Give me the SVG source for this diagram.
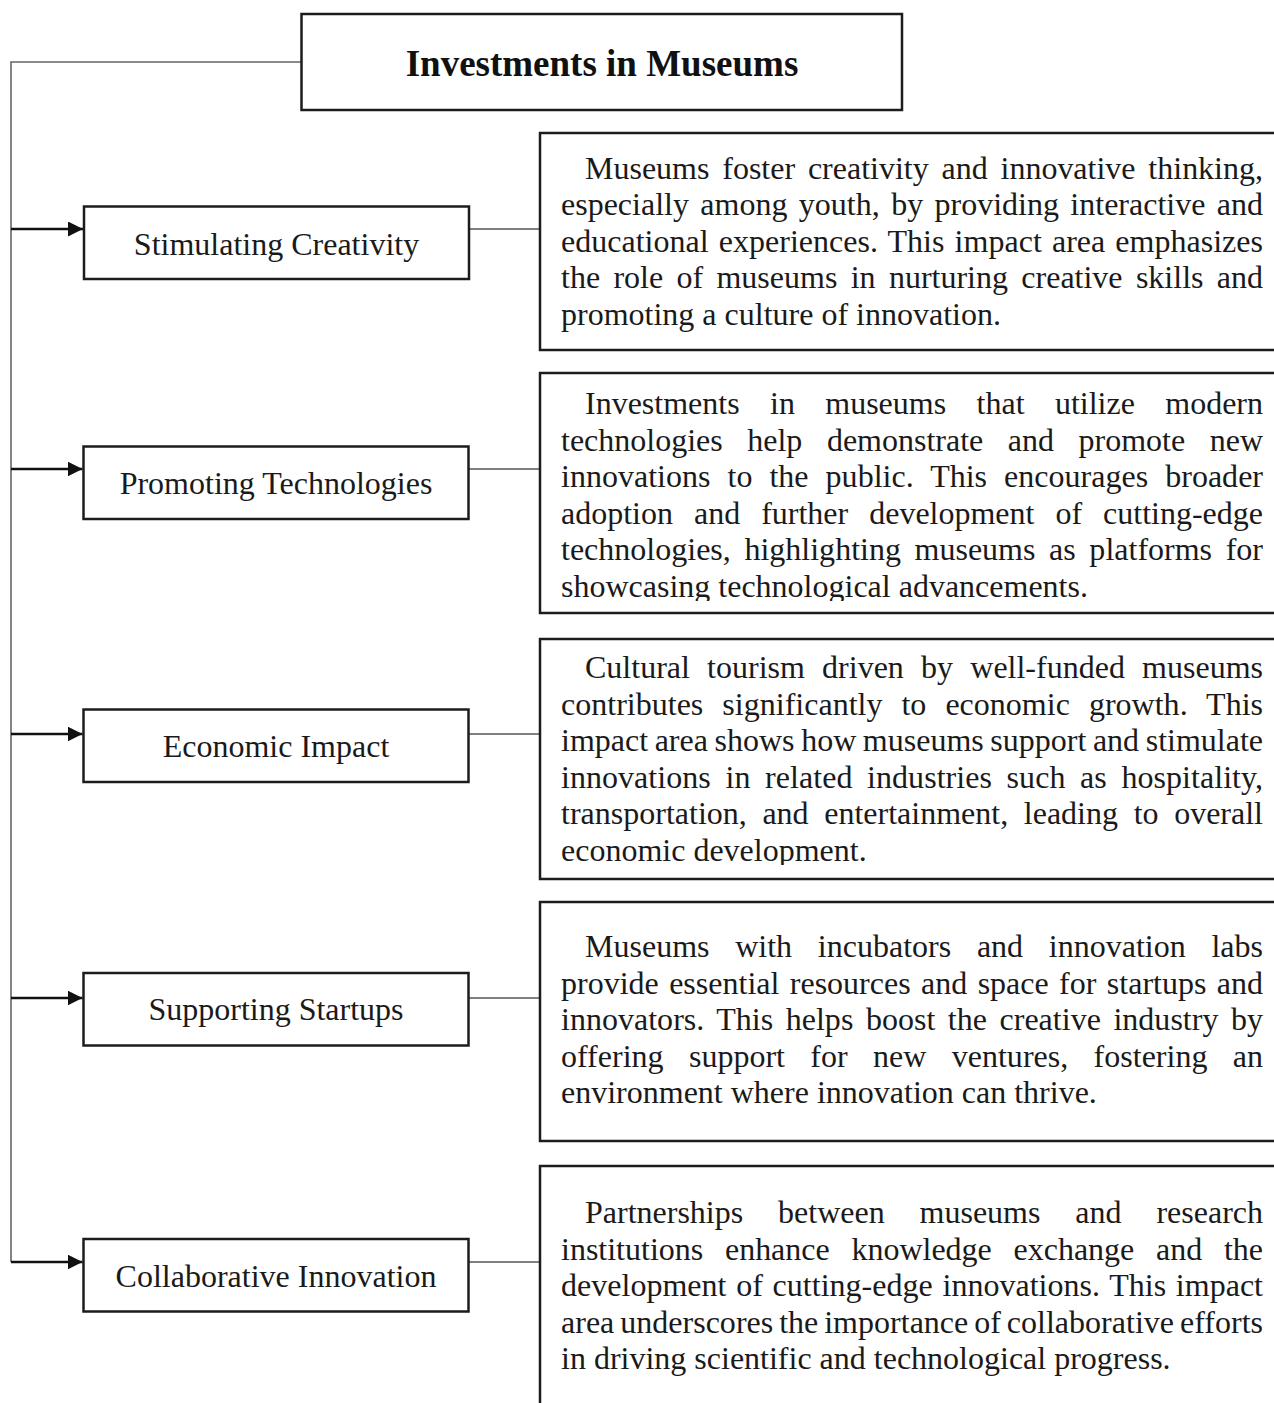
<svg xmlns="http://www.w3.org/2000/svg" width="1274" height="1403" viewBox="0 0 1274 1403">
<defs>
<style>
.box{fill:#fff;stroke:#1c1c1c;stroke-width:2.5}
.title{font-family:"Liberation Serif","Times New Roman",serif;font-weight:bold;font-size:37px;fill:#111;text-anchor:middle}
.lbl{font-family:"Liberation Serif","Times New Roman",serif;font-size:32px;fill:#1a1a1a;text-anchor:middle}
.body{font-family:"Liberation Serif","Times New Roman",serif;font-size:32px;fill:#1a1a1a}
.trunk{fill:none;stroke:#666;stroke-width:1.6}
.arr{fill:none;stroke:#111;stroke-width:2.5}
.link{fill:none;stroke:#555;stroke-width:1.6}
</style>
<marker id="ah" viewBox="0 0 15 15" refX="15" refY="7.5" markerWidth="15" markerHeight="15" markerUnits="userSpaceOnUse" orient="auto">
<path d="M0,0 L15,7.5 L0,15 Z" fill="#111"/>
</marker>
<clipPath id="c2"><rect x="540" y="373" width="740" height="228"/></clipPath>
<clipPath id="c3"><rect x="540" y="639" width="740" height="226"/></clipPath>
</defs>

<g id="connectors">
<path class="trunk" d="M301,62 H11 V1262"/>
<path class="arr" d="M11,229 H83" marker-end="url(#ah)"/>
<path class="arr" d="M11,469 H82.5" marker-end="url(#ah)"/>
<path class="arr" d="M11,734 H82.5" marker-end="url(#ah)"/>
<path class="arr" d="M11,998 H82.5" marker-end="url(#ah)"/>
<path class="arr" d="M11,1262 H82.5" marker-end="url(#ah)"/>
<path class="link" d="M469,229 H540"/>
<path class="link" d="M468,469 H540"/>
<path class="link" d="M468,734 H540"/>
<path class="link" d="M468,998 H540"/>
<path class="link" d="M468,1262 H540"/>
</g>

<g id="title">
<rect class="box" x="301.5" y="14" width="600.5" height="96"/>
<text class="title" x="602" y="76">Investments in Museums</text>
</g>

<g id="n1">
<rect class="box" x="84" y="206.5" width="385" height="72.5"/>
<text class="lbl" x="276.5" y="254.5">Stimulating Creativity</text>
</g>
<g id="n2">
<rect class="box" x="83.5" y="446.5" width="385" height="72.5"/>
<text class="lbl" x="276" y="494">Promoting Technologies</text>
</g>
<g id="n3">
<rect class="box" x="83.5" y="709.5" width="385" height="72.5"/>
<text class="lbl" x="276" y="757">Economic Impact</text>
</g>
<g id="n4">
<rect class="box" x="83.5" y="973" width="385" height="72.5"/>
<text class="lbl" x="276" y="1020">Supporting Startups</text>
</g>
<g id="n5">
<rect class="box" x="83.5" y="1239" width="385" height="72.5"/>
<text class="lbl" x="276" y="1287">Collaborative Innovation</text>
</g>

<g id="d1">
<rect class="box" x="540" y="133" width="760" height="217"/>
<text class="body" x="585" y="178.5" textLength="678" lengthAdjust="spacing" word-spacing="4.8">Museums foster creativity and innovative thinking,</text>
<text class="body" x="561" y="215.1" textLength="702" lengthAdjust="spacing" word-spacing="3.4">especially among youth, by providing interactive and</text>
<text class="body" x="561" y="251.7" textLength="702" lengthAdjust="spacing" word-spacing="2.1">educational experiences. This impact area emphasizes</text>
<text class="body" x="561" y="288.3" textLength="702" lengthAdjust="spacing" word-spacing="5.3">the role of museums in nurturing creative skills and</text>
<text class="body" x="561" y="324.9">promoting a culture of innovation.</text>
</g>

<g id="d2">
<rect class="box" x="540" y="373" width="760" height="240"/>
<g clip-path="url(#c2)">
<text class="body" x="585" y="414" textLength="678" lengthAdjust="spacing" word-spacing="22.4">Investments in museums that utilize modern</text>
<text class="body" x="561" y="450.6" textLength="702" lengthAdjust="spacing" word-spacing="16.5">technologies help demonstrate and promote new</text>
<text class="body" x="561" y="487.2" textLength="702" lengthAdjust="spacing" word-spacing="9">innovations to the public. This encourages broader</text>
<text class="body" x="561" y="523.8" textLength="702" lengthAdjust="spacing" word-spacing="13">adoption and further development of cutting-edge</text>
<text class="body" x="561" y="560.4" textLength="702" lengthAdjust="spacing" word-spacing="5.6">technologies, highlighting museums as platforms for</text>
<text class="body" x="561" y="597">showcasing technological advancements.</text>
</g>
</g>

<g id="d3">
<rect class="box" x="540" y="639" width="760" height="240"/>
<g clip-path="url(#c3)">
<text class="body" x="585" y="678" textLength="678" lengthAdjust="spacing" word-spacing="9.2">Cultural tourism driven by well-funded museums</text>
<text class="body" x="561" y="714.6" textLength="702" lengthAdjust="spacing" word-spacing="11">contributes significantly to economic growth. This</text>
<text class="body" x="561" y="751.2" textLength="702" lengthAdjust="spacing" word-spacing="-1.4">impact area shows how museums support and stimulate</text>
<text class="body" x="561" y="787.8" textLength="702" lengthAdjust="spacing" word-spacing="6.6">innovations in related industries such as hospitality,</text>
<text class="body" x="561" y="824.4" textLength="702" lengthAdjust="spacing" word-spacing="7.6">transportation, and entertainment, leading to overall</text>
<text class="body" x="561" y="861">economic development.</text>
</g>
</g>

<g id="d4">
<rect class="box" x="540" y="902" width="760" height="239"/>
<text class="body" x="585" y="957" textLength="678" lengthAdjust="spacing" word-spacing="17.7">Museums with incubators and innovation labs</text>
<text class="body" x="561" y="993.6" textLength="702" lengthAdjust="spacing" word-spacing="2.4">provide essential resources and space for startups and</text>
<text class="body" x="561" y="1030.2" textLength="702" lengthAdjust="spacing" word-spacing="4.5">innovators. This helps boost the creative industry by</text>
<text class="body" x="561" y="1066.8" textLength="702" lengthAdjust="spacing" word-spacing="17.3">offering support for new ventures, fostering an</text>
<text class="body" x="561" y="1103.4">environment where innovation can thrive.</text>
</g>

<g id="d5">
<rect class="box" x="540" y="1166" width="760" height="260"/>
<text class="body" x="585" y="1223" textLength="678" lengthAdjust="spacing" word-spacing="26.9">Partnerships between museums and research</text>
<text class="body" x="561" y="1259.6" textLength="702" lengthAdjust="spacing" word-spacing="13.7">institutions enhance knowledge exchange and the</text>
<text class="body" x="561" y="1296.2" textLength="702" lengthAdjust="spacing" word-spacing="1.7">development of cutting-edge innovations. This impact</text>
<text class="body" x="561" y="1332.8" textLength="702" lengthAdjust="spacing" word-spacing="-2.1">area underscores the importance of collaborative efforts</text>
<text class="body" x="561" y="1369.4">in driving scientific and technological progress.</text>
</g>
</svg>
